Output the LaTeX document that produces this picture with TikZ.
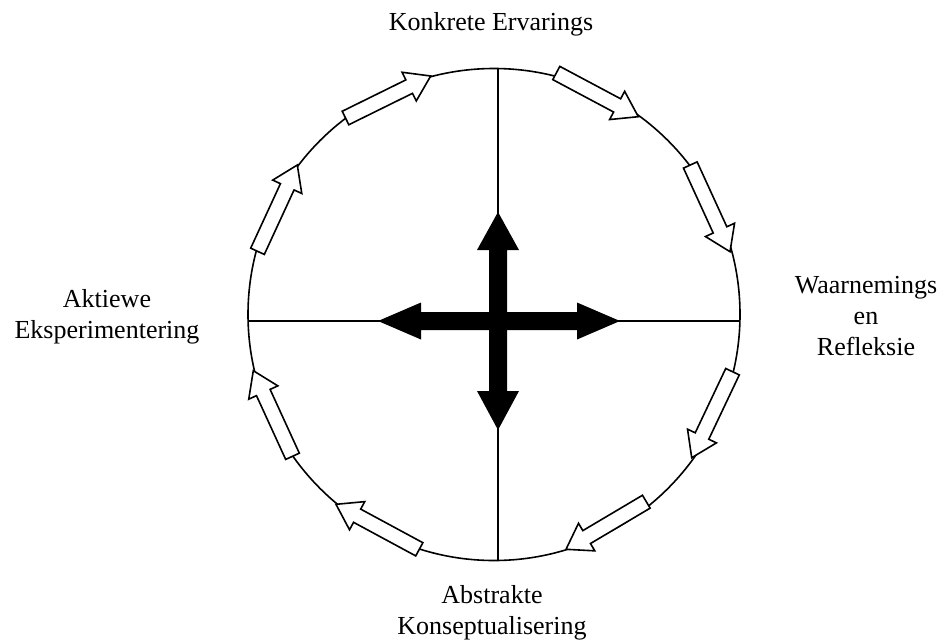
\documentclass[tikz,border=0pt]{standalone}
\usepackage{fontspec}
\setmainfont{Liberation Serif}
\usetikzlibrary{calc}
\tikzset{
  ring/.style={line width=1.6pt, draw=black},
  axis/.style={line width=1.5pt, draw=black},
  harr/.style={line width=1.6pt, draw=black, fill=white, line join=miter},
  bigarr/.style={fill=black, draw=none},
  lbl/.style={font=\fontsize{26}{31}\selectfont, align=center, inner sep=0pt, anchor=base}
}
\newcommand\harrow[2]{%
  \coordinate (hb) at ($(#2)!24pt!(#1)$);
  \draw[harr] ($(#1)!7.5pt!90:(#2)$) -- ($(hb)!7.5pt!90:(#2)$) -- ($(hb)!16pt!90:(#2)$) -- (#2)
     -- ($(hb)!16pt!-90:(#2)$) -- ($(hb)!7.5pt!-90:(#2)$) -- ($(#1)!7.5pt!-90:(#2)$) -- cycle;}
\begin{document}
\begin{tikzpicture}[x=1pt,y=-1pt]
\useasboundingbox (0,0) rectangle (941,643);
% circle and axes
\coordinate (c) at (494,314.5);
\draw[ring] (c) circle[radius=246];
\coordinate (top) at (498,68.5);
\coordinate (bot) at (498,560.5);
\coordinate (lft) at (248.1,321);
\coordinate (rgt) at (739.9,321);
\draw[axis] (top) -- (bot);
\draw[axis] (lft) -- (rgt);
% hollow cycle arrows (tail, tip)
\coordinate (t1) at (556.3,73);    \coordinate (p1) at (638.3,116.7);
\coordinate (t2) at (690.3,165);   \coordinate (p2) at (730,251.7);
\coordinate (t3) at (732.5,371.7); \coordinate (p3) at (691.7,457.7);
\coordinate (t4) at (646.3,501.7); \coordinate (p4) at (566,549.3);
\coordinate (t5) at (419.3,549.3); \coordinate (p5) at (336,504.3);
\coordinate (t6) at (292.5,456.3); \coordinate (p6) at (253.3,370.7);
\coordinate (t7) at (257.5,251.3); \coordinate (p7) at (297.3,165);
\coordinate (t8) at (345.5,118);   \coordinate (p8) at (430.7,76);
\harrow{t1}{p1}
\harrow{t2}{p2}
\harrow{t3}{p3}
\harrow{t4}{p4}
\harrow{t5}{p5}
\harrow{t6}{p6}
\harrow{t7}{p7}
\harrow{t8}{p8}
% central black cross
\fill[bigarr] (378,321) -- (421,302.5) -- (421,312) -- (577,312) -- (577,302.5) -- (620,321)
   -- (577,339.5) -- (577,330) -- (421,330) -- (421,339.5) -- cycle;
\fill[bigarr] (498,212) -- (519,250) -- (507,250) -- (507,391) -- (519,391) -- (498,430)
   -- (477,391) -- (489,391) -- (489,250) -- (477,250) -- cycle;
% labels (base anchor = baseline of last line)
\node[lbl] (ke) at (491,30) {Konkrete Ervarings};
\node[lbl] (wr) at (866,355) {Waarnemings\\en\\Refleksie};
\node[lbl] (ae) at (107,338) {Aktiewe\\Eksperimentering};
\node[lbl] (ak) at (492,634) {Abstrakte\\Konseptualisering};
\end{tikzpicture}
\end{document}
